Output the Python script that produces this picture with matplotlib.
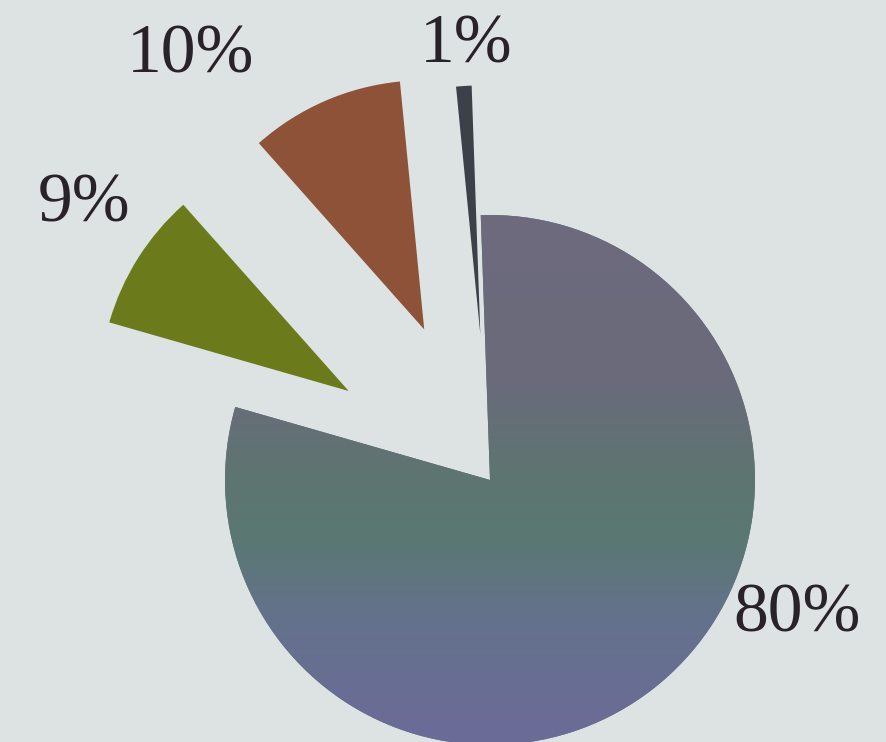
import numpy as np
import matplotlib.pyplot as plt
from matplotlib.colors import LinearSegmentedColormap

# Shares of the pie, clockwise from the top
labels = ["80%", "9%", "10%", "1%"]
values = [80, 9, 10, 1]
colors = ["#64737a", "#6b7a1a", "#8e5238", "#3c4048"]
explode = [0, 0.63, 0.62, 0.55]

# label anchor points (data units, pie radius = 1)
label_x = [1.16, -1.53, -1.13, -0.09]
label_y = [-0.51, 1.04, 1.60, 1.64]

bg = "#dce3e2"
fig = plt.figure(figsize=(8.87, 7.42), dpi=100, facecolor=bg)
ax = fig.add_axes([0, 0, 1, 1])
ax.set_facecolor(bg)

wedges, _ = ax.pie(values, colors=colors, explode=explode, startangle=92,
                   counterclock=False, radius=1.0, center=(0, 0),
                   wedgeprops=dict(linewidth=0))

# the pulled-out slices are drawn a little shorter
for w in wedges[1:]:
    w.set_radius(0.94)

# vertical colour shading on the large slice
shade = LinearSegmentedColormap.from_list(
    "shade", [(0.0, "#6d6a7d"), (0.31, "#6a6b7b"), (0.48, "#5f7471"),
              (0.61, "#5a7872"), (0.76, "#64728c"), (1.0, "#6c6b99")])
grad = np.linspace(0, 1, 256).reshape(-1, 1)
img = ax.imshow(grad, cmap=shade, extent=(-1.0, 1.0, -1.0, 1.0),
                origin="upper", aspect="auto", zorder=wedges[0].get_zorder() + 0.1)
img.set_clip_path(wedges[0])

for lab, lx, ly in zip(labels, label_x, label_y):
    ax.text(lx, ly, lab, ha="center", va="center", fontsize=50,
            family=["Liberation Serif", "DejaVu Serif"], color="#2a2229")

ax.set_xlim(-490 / 265, 397 / 265)
ax.set_ylim(-262 / 265, 480 / 265)
ax.set_aspect("equal")
ax.axis("off")

fig.savefig("out.png", dpi=100, facecolor=bg)
